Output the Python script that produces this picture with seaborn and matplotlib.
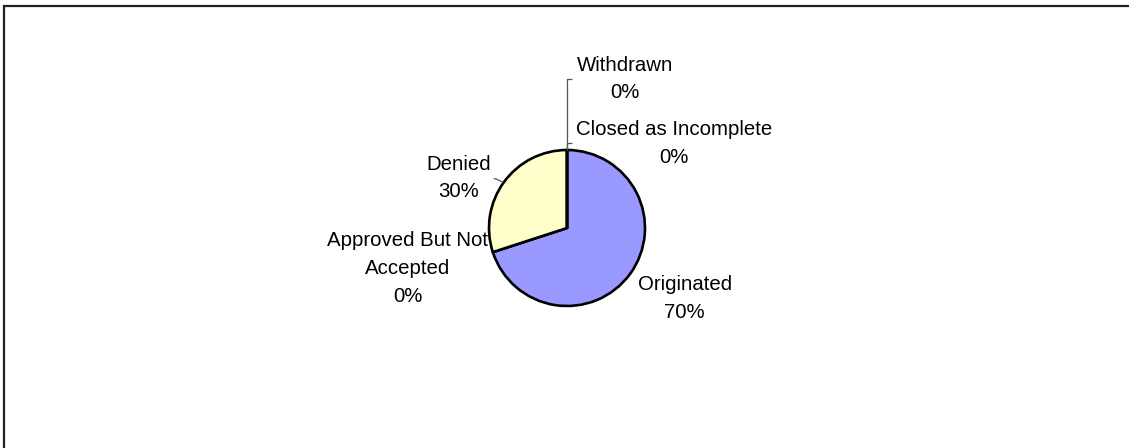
import numpy as np
import matplotlib
matplotlib.use("Agg")
import matplotlib.pyplot as plt
from matplotlib.patches import Rectangle
import seaborn as sns

# Loan application outcomes
categories = ["Originated", "Approved But Not Accepted", "Denied",
              "Withdrawn", "Closed as Incomplete"]
counts = [70, 0, 30, 0, 0]
slice_colors = ["#9999FF", "#993366", "#FFFFCC", "#CCFFFF", "#660066"]

# Label placement (data units, pie radius = 1) and wrapped label text
label_text = {
    "Originated": "Originated",
    "Approved But Not Accepted": "Approved But Not\nAccepted",
    "Denied": "Denied",
    "Withdrawn": "Withdrawn",
    "Closed as Incomplete": "Closed as Incomplete",
}
label_pos = {
    "Originated": (1.51, -0.90),
    "Approved But Not Accepted": (-2.04, -0.52),
    "Denied": (-1.385, 0.64),
    "Withdrawn": (0.744, 1.91),
    "Closed as Incomplete": (1.372, 1.085),
}

sns.set_theme(style="white")
plt.rcParams["font.family"] = ["Liberation Sans", "DejaVu Sans"]

W, H, DPI = 1129, 448, 100
fig = plt.figure(figsize=(W / DPI, H / DPI), dpi=DPI)
fig.patch.set_facecolor("white")
ax = fig.add_axes([0, 0, 1, 1])
ax.set_axis_off()

# 78 px per data unit, pie centred at pixel (567, 228 from top)
px = 78.0
cx, cy = 567.0, 228.0

wedges, _ = ax.pie(counts, colors=slice_colors, startangle=90,
                   counterclock=False, radius=1.0, center=(0, 0),
                   wedgeprops=dict(edgecolor="black", linewidth=1.9))
ax.set_xlim(-cx / px, (W - cx) / px)
ax.set_ylim(-(H - cy) / px, cy / px)
ax.set_aspect("auto")

total = sum(counts)
fs = 14.7
for cat, val, wdg in zip(categories, counts, wedges):
    pct = f"{val / total * 100:.0f}%"
    x, y = label_pos[cat]
    ax.text(x, y, f"{label_text[cat]}\n{pct}", ha="center", va="center",
            fontsize=fs, color="black", linespacing=1.58)

# Leader lines for labels pulled away from their slices
lc = dict(color="#555555", linewidth=0.9, solid_capstyle="butt")
ax.plot([0, 0, 0.065], [1.0, 1.91, 1.91], **lc)
ax.plot([0, 0, 0.06], [1.0, 1.085, 1.085], **lc)
ax.plot([-0.94, -0.90, -0.83], [0.635, 0.625, 0.59], **lc)

# Chart area border
fig.add_artist(Rectangle((3.5 / W, -0.5), 1.5, 1.5 - 5.5 / H,
                         transform=fig.transFigure, fill=False,
                         edgecolor="#222222", linewidth=1.6))

fig.savefig("out.png", dpi=DPI, facecolor="white")
